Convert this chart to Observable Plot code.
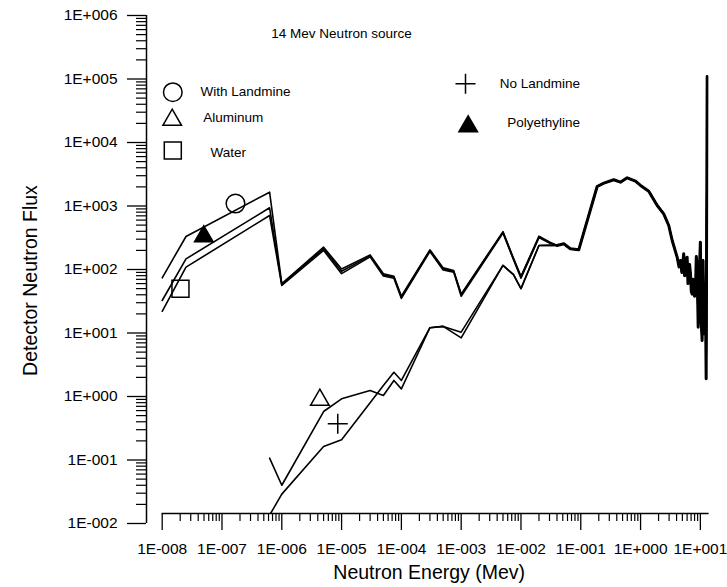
<!DOCTYPE html>
<html>
<head>
<meta charset="utf-8">
<script src="https://cdn.jsdelivr.net/npm/d3@7"></script>
<script src="https://cdn.jsdelivr.net/npm/@observablehq/plot@0.6"></script>
<style>
  body { margin: 0; background: #fff; }
  #chart svg { display: block; }
</style>
</head>
<body>
<div id="chart"></div>
<script>
// ---------------- data ----------------
// Energy bins (MeV) for the hydrogen-rich group
const binsUpper = [1e-8, 2.5e-8, 6.25e-7, 1e-6, 5e-6, 1e-5, 3e-5, 5e-5, 7.5e-5, 1e-4, 3e-4, 5e-4, 7.5e-4, 1e-3, 5e-3, 7.5e-3, 1e-2, 2e-2, 3e-2];
const withLandmine = [74, 331, 1650, 60, 225, 102, 170, 86, 78, 38, 204, 106, 96, 41, 395, 150, 78, 335, 272];
const polyethyline = [32.5, 147, 937, 58, 212, 94, 164, 82, 76, 37, 198, 102, 94, 40, 385, 147, 76, 325, 265];
const water        = [22, 109, 708, 56, 200, 86, 158, 79, 73, 35, 192, 98, 91, 38, 375, 143, 73, 318, 260];

// Energy bins (MeV) for the low-thermal group
const binsLower = [6.25e-7, 1e-6, 5e-6, 1e-5, 3e-5, 5e-5, 7.5e-5, 1e-4, 3e-4, 5e-4, 1e-3, 5e-3, 7.5e-3, 1e-2, 2e-2, 3e-2];
const aluminum   = [0.107, 0.04, 0.58, 0.92, 1.24, 1.04, 1.79, 1.32, 12.1, 12.7, 10.3, 116, 83, 50, 239, 240];
const noLandmine = [0.0135, 0.029, 0.163, 0.208, 0.8, 1.49, 2.41, 1.79, 12.1, 12.7, 8.4, 116, 83, 50, 239, 240];

// Shared fast-neutron tail (all five curves coincide here)
const tailEnergy = [0.040, 0.052, 0.067, 0.0925, 0.188, 0.243, 0.356, 0.461, 0.597, 0.822, 1.0, 1.37, 1.9, 2.44, 2.96, 3.38, 4.09, 4.4, 4.65, 4.9, 5.27, 5.45, 5.63, 5.8, 6.01, 6.2, 6.39, 6.6, 6.83, 7.05, 7.29, 7.5, 7.76, 8.0, 8.28, 8.55, 8.84, 9.19, 9.6, 10.0, 10.35, 10.7, 11.1, 11.4, 11.7, 12.1, 12.5, 13.0];
const tailFlux   = [239, 254, 212, 204, 2028, 2286, 2587, 2372, 2780, 2460, 2105, 1711, 1018, 753, 493, 286, 156, 110, 139, 90, 177, 80, 96, 150, 156, 60, 67, 120, 86, 45, 41, 70, 56, 38, 47, 160, 109, 12.3, 90, 269, 15, 7.6, 139, 20, 9.7, 60, 1.9, 1.09e5];

// Series names, symbols and in-plot marker annotations
const seriesNames   = ["With Landmine", "Aluminum", "Water", "No Landmine", "Polyethyline"];
const seriesSymbols = ["circle", "triangle", "square", "plus", "triangle"];
const seriesFilled  = [false, false, false, false, true];
const markerEnergy  = [1.68e-7, 4.33e-6, 2.02e-8, 8.63e-6, 4.97e-8];
const markerFlux    = [1094, 0.883, 49.7, 0.372, 331];

// Tick values and labels
const xTickValues = [1e-8, 1e-7, 1e-6, 1e-5, 1e-4, 1e-3, 1e-2, 1e-1, 1e0, 1e1];
const xTickLabels = ["1E-008", "1E-007", "1E-006", "1E-005", "1E-004", "1E-003", "1E-002", "1E-001", "1E+000", "1E+001"];
const yTickValues = [1e-2, 1e-1, 1e0, 1e1, 1e2, 1e3, 1e4, 1e5, 1e6];
const yTickLabels = ["1E-002", "1E-001", "1E+000", "1E+001", "1E+002", "1E+003", "1E+004", "1E+005", "1E+006"];

// ---------------- layout / style ----------------
const W = 727, H = 587;
const FONT = "'Liberation Sans', Arial, Helvetica, sans-serif";
const mL = 146, mR = 18.4, mT = 15, mB = 74;
const xRange = [161.7, W - mR];
const yRange = [523, 15];

const xLabelMap = new Map(xTickValues.map((v, i) => [v, xTickLabels[i]]));
const yLabelMap = new Map(yTickValues.map((v, i) => [v, yTickLabels[i]]));
const minorTicks = (lo, hi) => {
  const out = [];
  for (let e = lo; e < hi; e++) for (let k = 2; k <= 9; k++) out.push(k * Math.pow(10, e));
  return out;
};
const xMinor = minorTicks(-8, 2).filter(v => v <= 14);
const yMinor = minorTicks(-2, 6);

const toPoints = (es, fs) => es.map((e, i) => ({e, f: fs[i]}));
const tail = toPoints(tailEnergy, tailFlux);
const seriesData = {
  "With Landmine": toPoints(binsUpper, withLandmine).concat(tail),
  "Polyethyline": toPoints(binsUpper, polyethyline).concat(tail),
  "Water": toPoints(binsUpper, water).concat(tail),
  "Aluminum": toPoints(binsLower, aluminum).concat(tail),
  "No Landmine": toPoints(binsLower, noLandmine).concat(tail)
};

const symbolR = {circle: 9.3, triangle: 6.9, square: 9.6, plus: 6.5};

// legend layout (pixel positions, converted to offsets from the frame's top-left)
const legendLayout = {
  "With Landmine": {sx: 172.3, sy: 91.7, tx: 200, ty: 90.7},
  "Aluminum":      {sx: 171.7, sy: 119.4, tx: 202.7, ty: 116.7},
  "Water":         {sx: 172.3, sy: 150, tx: 210, ty: 151.7},
  "No Landmine":   {sx: 465, sy: 83.3, tx: 499.3, ty: 83.3},
  "Polyethyline":  {sx: 467.7, sy: 126, tx: 506.7, ty: 121.7}
};

const marks = [];

// axis lines
marks.push(Plot.ruleX([xTickValues[0]], {y1: yTickValues[0], y2: yTickValues[yTickValues.length - 1], dx: mL - xRange[0], stroke: "black", strokeWidth: 1.5}));
marks.push(Plot.ruleY([yTickValues[0]], {x1: xTickValues[0], x2: 14, dy: (H - mB) - yRange[0], stroke: "black", strokeWidth: 1.5}));

// ticks
marks.push(Plot.axisX(xTickValues, {anchor: "bottom", tickSize: 17, tickPadding: 12.5, tickFormat: d => xLabelMap.get(d), fontSize: 15.5, label: null, strokeWidth: 1.3}));
marks.push(Plot.axisX(xMinor, {anchor: "bottom", tickSize: 8, tickFormat: () => "", label: null, strokeWidth: 1.2}));
marks.push(Plot.axisY(yTickValues, {anchor: "left", tickSize: 19, tickPadding: 10, tickFormat: d => yLabelMap.get(d), fontSize: 15.5, label: null, strokeWidth: 1.3}));
marks.push(Plot.axisY(yMinor, {anchor: "left", tickSize: 10, tickFormat: () => "", label: null, strokeWidth: 1.2}));

// axis titles and chart title
marks.push(Plot.text(["Detector Neutron Flux"], {frameAnchor: "left", textAnchor: "middle", lineAnchor: "middle", rotate: -90, dx: 30 - mL, dy: 280 - (mT + H - mB) / 2, fontSize: 19.5, fill: "black"}));
marks.push(Plot.text(["Neutron Energy (Mev)"], {frameAnchor: "bottom", textAnchor: "middle", lineAnchor: "middle", dx: 428.7 - (mL + W - mR) / 2, dy: 572 - (H - mB), fontSize: 19.5, fill: "black"}));
marks.push(Plot.text(["14 Mev Neutron source"], {frameAnchor: "top-left", textAnchor: "middle", lineAnchor: "middle", dx: 341 - mL, dy: 33 - mT, fontSize: 13.5, fill: "black"}));

// data lines
for (const name of seriesNames) {
  marks.push(Plot.line(seriesData[name], {x: "e", y: "f", stroke: "black", strokeWidth: 1.6, clip: true}));
}
marks.push(Plot.line(tail, {x: "e", y: "f", stroke: "black", strokeWidth: 3, clip: true}));

// in-plot marker annotations
seriesNames.forEach((name, i) => {
  const sym = seriesSymbols[i];
  marks.push(Plot.dot([{e: markerEnergy[i], f: markerFlux[i]}], {
    x: "e", y: "f", symbol: sym, r: symbolR[sym],
    stroke: "black", strokeWidth: 1.5, fill: seriesFilled[i] ? "black" : "none"
  }));
});

// legend
seriesNames.forEach((name, i) => {
  const sym = seriesSymbols[i];
  const L = legendLayout[name];
  marks.push(Plot.dot([name], {
    frameAnchor: "top-left", dx: L.sx - mL, dy: L.sy - mT, symbol: sym, r: symbolR[sym],
    stroke: "black", strokeWidth: 1.5, fill: seriesFilled[i] ? "black" : "none"
  }));
  marks.push(Plot.text([name], {
    frameAnchor: "top-left", dx: L.tx - mL, dy: L.ty - mT, textAnchor: "start", lineAnchor: "middle", fontSize: 13.5, fill: "black"
  }));
});

const chart = Plot.plot({
  width: W, height: H,
  marginLeft: mL, marginRight: mR, marginTop: mT, marginBottom: mB,
  style: {fontFamily: FONT, background: "white", color: "black", overflow: "visible"},
  x: {type: "log", domain: [1e-8, 14], range: xRange},
  y: {type: "log", domain: [1e-2, 1e6], range: yRange},
  marks
});
document.getElementById("chart").appendChild(chart);
</script>
</body>
</html>
